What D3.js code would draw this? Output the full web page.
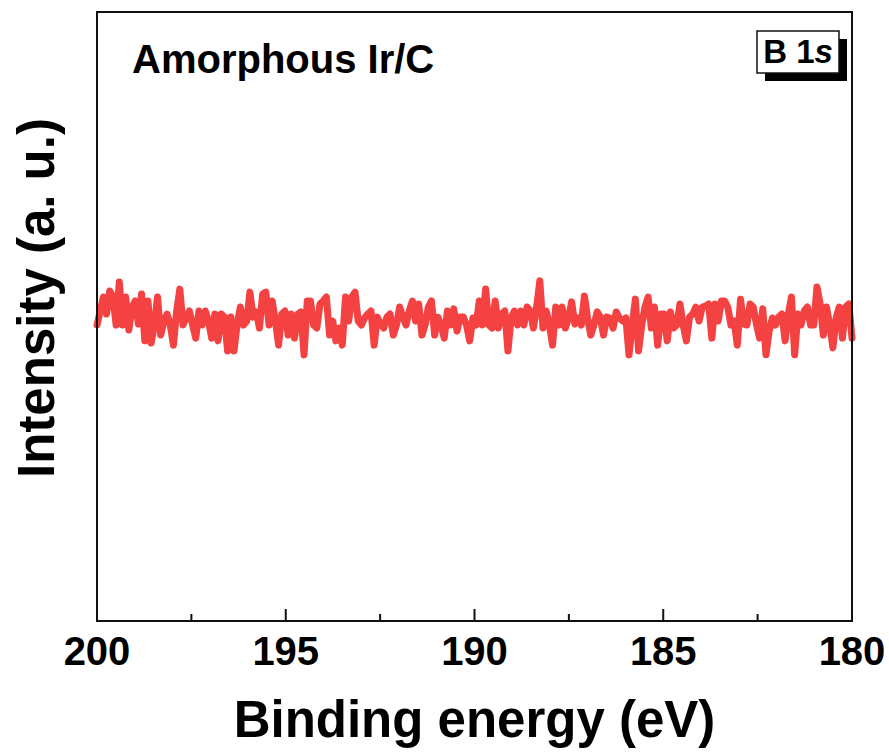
<!DOCTYPE html>
<html>
<head>
<meta charset="utf-8">
<script src="https://cdn.jsdelivr.net/npm/d3@7"></script>
<style>
  body { margin: 0; background: #fff; }
  text { font-family: Arial, "Liberation Sans", sans-serif; font-weight: bold; }
</style>
</head>
<body>
<svg id="chart" width="889" height="755"></svg>
<script>
// binding energy window (eV), reversed axis
const energyStart = 200,
    energyEnd = 180;

const xTicks = [200, 195, 190, 185, 180];
const xMinorTicks = [197.5, 192.5, 187.5, 182.5];

// B 1s intensity (a.u.) left to right, in four chunks
const intensity1 = [972, 1018, 1064, 1008, 1084, 1064, 972, 1113, 972, 1064, 956, 1031, 1051, 975, 1074,
    920, 1051, 913, 972, 1064, 939, 985, 1008, 972, 906, 1018, 1090, 972, 998, 1018, 972, 929, 1018,
    972, 1018, 985, 929, 1008, 920, 1008, 998, 887, 998, 887, 975, 1031, 972, 985, 1080, 998, 1015,
    962, 1074, 1080, 972, 1051, 985, 906, 1008, 1018];
const intensity2 = [939, 1008, 929, 1008, 1015, 874, 1051, 1051, 972, 962, 1041, 1051, 1064, 939, 985,
    920, 962, 906, 1064, 985, 1064, 1080, 985, 972, 995, 1008, 1018, 906, 998, 975, 962, 998, 1008,
    939, 972, 1031, 998, 972, 1018, 1051, 985, 1041, 939, 972, 1031, 1051, 939, 998, 972, 929, 1018,
    972, 1025, 952, 998, 998, 972, 920, 995];
const intensity3 = [972, 1051, 972, 1090, 972, 962, 1051, 962, 1008, 1018, 887, 995, 1018, 972, 1018,
    972, 1031, 1018, 962, 1031, 1117, 962, 1018, 972, 906, 1031, 972, 1031, 962, 995, 1048, 975, 995,
    972, 1067, 995, 939, 972, 1015, 998, 939, 998, 995, 962, 1015, 995, 985, 995, 874, 972, 1057, 887,
    972, 1031, 1064, 962, 1031, 906, 1008, 1008];
const intensity4 = [920, 1015, 962, 972, 1041, 972, 920, 998, 1008, 1031, 985, 1031, 1034, 1041, 929,
    1041, 985, 1051, 1051, 1031, 972, 985, 906, 1057, 975, 972, 1041, 1031, 975, 929, 1025, 874, 952,
    995, 972, 998, 1008, 920, 1008, 1064, 874, 1008, 972, 1018, 1031, 972, 972, 1097, 1041, 939, 1031,
    972, 897, 995, 1031, 929, 1031, 1041, 929];

const intensity = intensity1.concat(intensity2, intensity3, intensity4);
const step = (energyStart - energyEnd) / (intensity.length - 1);
const spectrum = intensity.map((v, i) => ({ e: energyStart - i * step, v: v }));

const margin = { top: 12, right: 37, bottom: 134, left: 97 };
const width = 889 - margin.left - margin.right,
    height = 755 - margin.top - margin.bottom;

const svg = d3.select('#chart');
const g = svg.append('g')
    .attr('transform', 'translate(' + margin.left + ',' + margin.top + ')');

const x = d3.scaleLinear()
    .domain([energyStart, energyEnd])
    .range([0, width]);

const y = d3.scaleLinear()
    .domain([0, 2000])
    .range([height, 0]);

// data line
const line = d3.line()
    .x(d => x(d.e))
    .y(d => y(d.v));

g.append('path')
    .datum(spectrum)
    .attr('fill', 'none')
    .attr('stroke', '#f44141')
    .attr('stroke-width', 7)
    .attr('stroke-linejoin', 'round')
    .attr('stroke-linecap', 'round')
    .attr('d', line);

// frame
g.append('rect')
    .attr('width', width)
    .attr('height', height)
    .attr('fill', 'none')
    .attr('stroke', '#111')
    .attr('stroke-width', 2);

// bottom axis, ticks pointing inward
const xAxis = g.append('g')
    .attr('transform', 'translate(0,' + height + ')');

xAxis.selectAll('line.major')
    .data(xTicks.slice(1, -1))
    .enter().append('line')
    .attr('class', 'major')
    .attr('x1', d => x(d)).attr('x2', d => x(d))
    .attr('y1', 0).attr('y2', -12)
    .attr('stroke', '#111')
    .attr('stroke-width', 2);

xAxis.selectAll('line.minor')
    .data(xMinorTicks)
    .enter().append('line')
    .attr('class', 'minor')
    .attr('x1', d => x(d)).attr('x2', d => x(d))
    .attr('y1', 0).attr('y2', -7)
    .attr('stroke', '#111')
    .attr('stroke-width', 2);

xAxis.selectAll('text')
    .data(xTicks)
    .enter().append('text')
    .attr('x', d => x(d))
    .attr('y', 44)
    .attr('text-anchor', 'middle')
    .style('font-size', '40px')
    .text(d => d);

// axis titles
svg.append('text')
    .attr('x', margin.left + width / 2)
    .attr('y', 737)
    .attr('text-anchor', 'middle')
    .style('font-size', '51px')
    .text('Binding energy (eV)');

svg.append('text')
    .attr('transform', 'translate(54,' + 298 + ') rotate(-90)')
    .attr('text-anchor', 'middle')
    .style('font-size', '51px')
    .text('Intensity (a. u.)');

// sample label
svg.append('text')
    .attr('x', 132)
    .attr('y', 73)
    .style('font-size', '40px')
    .text('Amorphous Ir/C');

// "B 1s" box with drop shadow
const tag = svg.append('g').attr('transform', 'translate(757,31)');
tag.append('rect')
    .attr('x', 8).attr('y', 8)
    .attr('width', 82).attr('height', 42)
    .attr('fill', '#000');
tag.append('rect')
    .attr('width', 82).attr('height', 42)
    .attr('fill', '#fff')
    .attr('stroke', '#111')
    .attr('stroke-width', 1.5);
const tagText = tag.append('text')
    .attr('x', 41)
    .attr('y', 32)
    .attr('text-anchor', 'middle')
    .style('font-size', '33px');
tagText.append('tspan').text('B 1');
tagText.append('tspan').style('font-style', 'italic').text('s');
</script>
</body>
</html>
